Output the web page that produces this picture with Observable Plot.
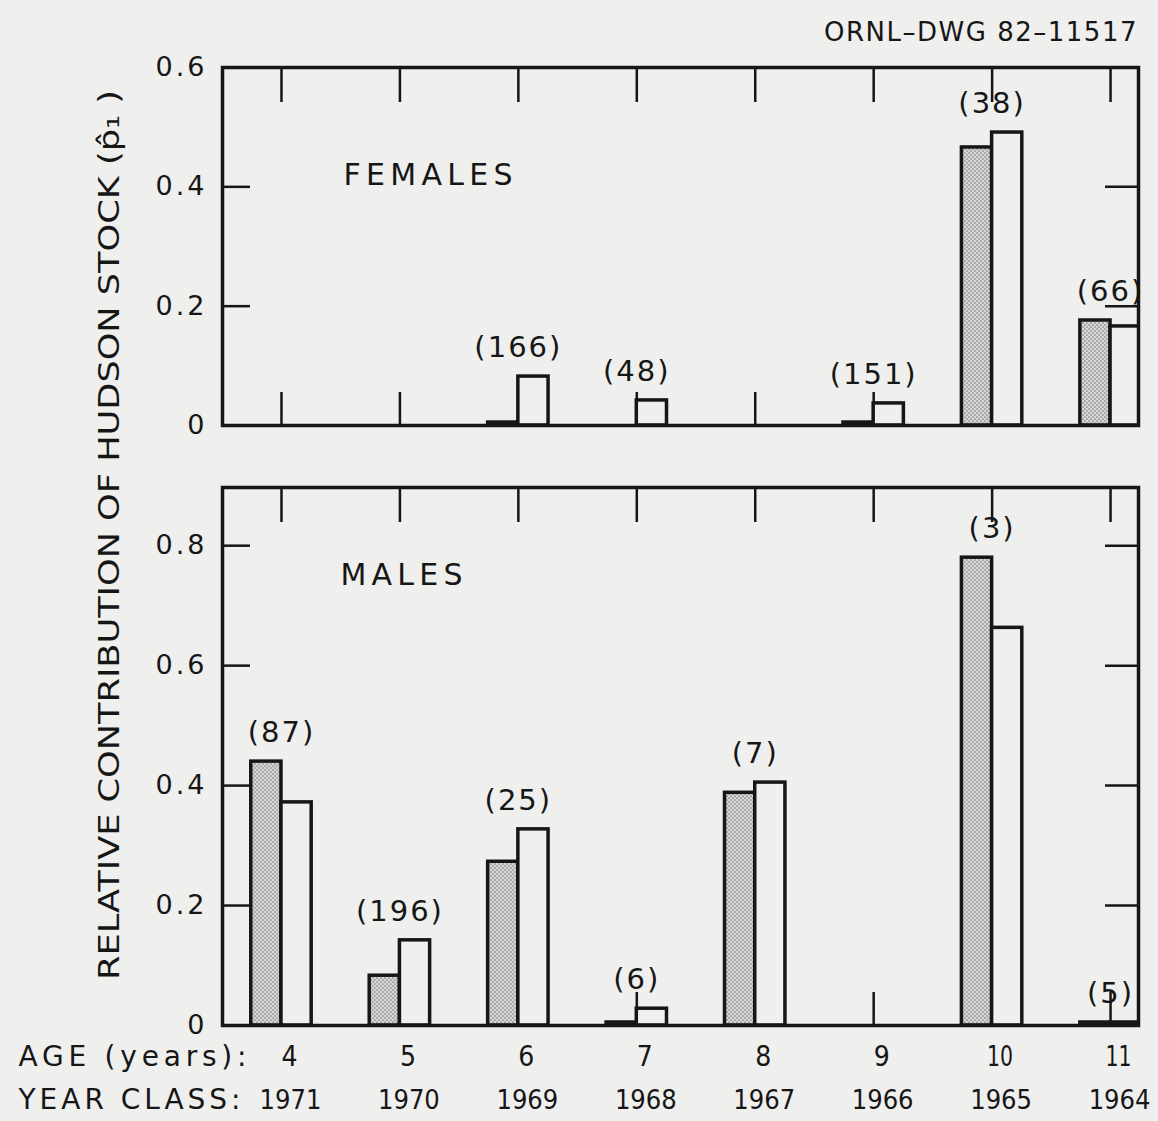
<!DOCTYPE html>
<html>
<head>
<meta charset="utf-8">
<script src="https://cdn.jsdelivr.net/npm/d3@7"></script>
<script src="https://cdn.jsdelivr.net/npm/@observablehq/plot@0.6"></script>
<style>
  html, body { margin: 0; padding: 0; background: #efefed; }
  #wrap { position: relative; width: 1158px; height: 1121px; overflow: hidden; background: #efefed; color: #161616; }
  #top, #bot, #overlay { position: absolute; left: 0; }
  #top { top: 0; }
  #bot { top: 445px; }
  #overlay { top: 0; pointer-events: none; }
</style>
</head>
<body>
<div id="wrap">
  <svg width="0" height="0" style="position:absolute">
    <defs>
      <pattern id="stip" width="4" height="4" patternUnits="userSpaceOnUse">
        <rect width="4" height="4" fill="#d6d6d4"></rect>
        <circle cx="1" cy="1" r="0.85" fill="#808080"></circle>
        <circle cx="3" cy="3" r="0.85" fill="#808080"></circle>
      </pattern>
    </defs>
  </svg>
  <div id="top"></div>
  <div id="bot"></div>
  <svg id="overlay" width="1158" height="1121"></svg>
</div>
<script>
// ---- data ----
const ages = [4, 5, 6, 7, 8, 9, 10, 11];
const yearClass = [1971, 1970, 1969, 1968, 1967, 1966, 1965, 1964];
const femaleStippled = [null, null, 0.005, null, null, 0.005, 0.466, 0.176];
const femaleOpen = [null, null, 0.082, 0.042, null, 0.037, 0.491, 0.166];
const femaleN = [null, null, 166, 48, null, 151, 38, 66];
const maleStippled = [0.440, 0.083, 0.273, 0.005, 0.388, null, 0.780, 0.005];
const maleOpen = [0.372, 0.142, 0.327, 0.028, 0.405, null, 0.663, 0.005];
const maleN = [87, 196, 25, 6, 7, null, 3, 5];
const femaleTicks = [0, 0.2, 0.4, 0.6];
const maleTicks = [0, 0.2, 0.4, 0.6, 0.8];
const panelNames = ["FEMALES", "MALES"];
const rowNames = ["AGE (years):", "YEAR CLASS:"];
const yTitle = "RELATIVE CONTRIBUTION OF HUDSON STOCK (p\u0302\u2081 )";
const drawingId = "ORNL\u2013DWG 82\u201311517";

// ---- styling ----
const ink = "#161616";
const bg = "#efefed";
const bw = 0.255;
const xDomain = [3.502, 11.236];
const narrow = "'Liberation Sans Narrow', 'DejaVu Sans Condensed', 'Arial Narrow', sans-serif";
const fmt = d => d === 0 ? "0" : d.toFixed(1);

function panel({height, marginTop, marginBottom, yMax, ticks, stip, open, n, name, nameDx, nameDy, bottomRows}) {
  const rows = ages.map((age, i) => ({age, year: yearClass[i], s: stip[i], o: open[i], n: n[i]}));
  const inner = ticks.filter(t => t > 0 && t < yMax - 1e-9);
  const marks = [
    Plot.axisX(ages, {anchor: "top", tickSize: -34, tickFormat: () => "", strokeWidth: 2.5, label: null}),
    Plot.axisX(ages, {anchor: "bottom", tickSize: -33, tickFormat: () => "", strokeWidth: 2.5, label: null}),
    Plot.axisY(inner, {anchor: "left", tickSize: -28, tickFormat: () => "", strokeWidth: 2.5, label: null}),
    Plot.axisY(inner, {anchor: "right", tickSize: -34, tickFormat: () => "", strokeWidth: 2.5, label: null}),
    Plot.axisY(ticks, {anchor: "left", tickSize: 0, tickPadding: 15, tickFormat: fmt, fontSize: 27, label: null}),
    Plot.rect(rows.filter(d => d.s != null), {
      x1: d => d.age - bw, x2: "age", y1: 0, y2: "s",
      fill: "url(#stip)", stroke: ink, strokeWidth: 3.5
    }),
    Plot.rect(rows.filter(d => d.o != null), {
      x1: "age", x2: d => d.age + bw, y1: 0, y2: "o",
      fill: bg, stroke: ink, strokeWidth: 3.5, clip: true
    }),
    Plot.text(rows.filter(d => d.n != null), {
      x: "age", y: d => Math.max(d.s ?? 0, d.o ?? 0),
      text: d => `(${d.n})`, dy: -29, fontSize: 29, fill: ink
    }),
    Plot.text([name], {
      frameAnchor: "top-left", dx: nameDx, dy: nameDy, textAnchor: "start",
      fontSize: 30, fill: ink
    }),
    Plot.frame({stroke: ink, strokeWidth: 3.5})
  ];
  if (bottomRows) {
    marks.push(
      Plot.text(rows, {x: "age", frameAnchor: "bottom", dy: 40, dx: 8, text: d => String(d.age),
        fontFamily: narrow, fontSize: 28, fill: ink}),
      Plot.text(rows, {x: "age", frameAnchor: "bottom", dy: 83, dx: 9, text: d => String(d.year),
        fontFamily: narrow, fontSize: 27, fill: ink}),
      Plot.text([rowNames[0]], {frameAnchor: "bottom-left", dx: -204, dy: 40, textAnchor: "start",
        fontSize: 28, fill: ink}),
      Plot.text([rowNames[1]], {frameAnchor: "bottom-left", dx: -204, dy: 83, textAnchor: "start",
        fontSize: 28, fill: ink})
    );
  }
  const svg = Plot.plot({
    width: 1158, height,
    marginTop, marginBottom, marginLeft: 222, marginRight: 20,
    x: {type: "linear", domain: xDomain, label: null},
    y: {domain: [0, yMax], label: null},
    style: {background: "transparent", color: ink, fontFamily: "'DejaVu Sans', sans-serif", fontSize: "26px", overflow: "visible"},
    marks
  });
  // typographic fitting of the lettering (spacing only)
  const texts = d3.select(svg).selectAll("text");
  texts.filter(function() { return /^\(\d+\)$/.test(this.textContent); }).style("letter-spacing", "2px");
  texts.filter(function() { return /^0(\.\d)?$/.test(this.textContent); }).style("letter-spacing", "3px");
  const fitLen = {"FEMALES": 169, "MALES": 122, "AGE (years):": 228, "YEAR CLASS:": 222};
  texts.filter(function() { return this.textContent in fitLen; })
    .attr("textLength", function() { return fitLen[this.textContent]; })
    .attr("lengthAdjust", "spacing");
  texts.filter(function() { return /^1\d$/.test(this.textContent); })
    .attr("textLength", 26).attr("lengthAdjust", "spacingAndGlyphs");
  return svg;
}

document.getElementById("top").appendChild(panel({
  height: 445, marginTop: 67, marginBottom: 20, yMax: 0.6, ticks: femaleTicks,
  stip: femaleStippled, open: femaleOpen, n: femaleN, name: panelNames[0], nameDx: 121, nameDy: 96
}));
document.getElementById("bot").appendChild(panel({
  height: 676, marginTop: 42, marginBottom: 96, yMax: 0.897, ticks: maleTicks,
  stip: maleStippled, open: maleOpen, n: maleN, name: panelNames[1], nameDx: 118, nameDy: 76, bottomRows: true
}));

// titles
const ov = d3.select("#overlay");
ov.append("text")
  .attr("transform", "translate(119,535) rotate(-90)")
  .attr("text-anchor", "middle")
  .attr("font-family", "'DejaVu Sans', sans-serif")
  .attr("font-size", 29)
  .attr("fill", ink)
  .attr("textLength", 890)
  .attr("lengthAdjust", "spacingAndGlyphs")
  .text(yTitle);
ov.append("text")
  .attr("x", 1138).attr("y", 41)
  .attr("text-anchor", "end")
  .attr("font-family", "'DejaVu Sans', sans-serif")
  .attr("font-size", 26)
  .attr("fill", ink)
  .style("letter-spacing", "1.5px")
  .text(drawingId);
</script>
</body>
</html>
